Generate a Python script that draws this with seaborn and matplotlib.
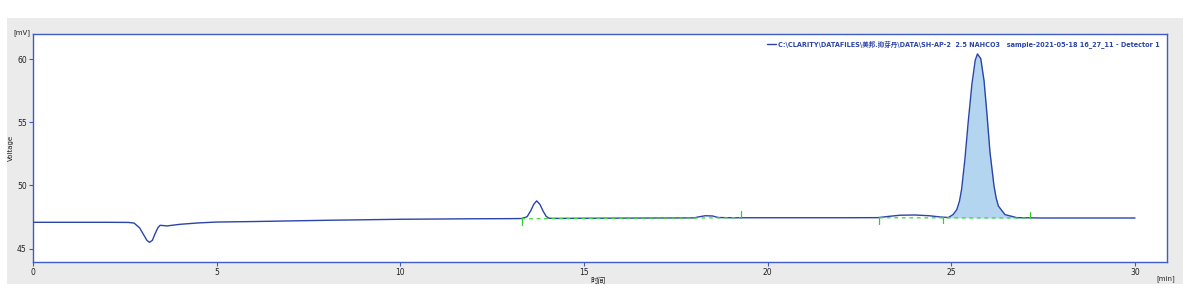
import numpy as np
import pandas as pd
import matplotlib
matplotlib.use("Agg")
import matplotlib.pyplot as plt
from matplotlib.patches import Rectangle
import seaborn as sns

# ---- data ----
time_min = [0.0, 1.0, 2.0, 2.6, 2.75, 2.9, 3.0, 3.1, 3.17, 3.25, 3.32, 3.4, 3.46, 3.55, 3.64,
            4.0, 4.5, 5.0, 6.0, 7.0, 8.0, 9.0, 10.0, 11.0, 12.0, 13.0, 13.3,
            13.45, 13.55, 13.63, 13.71, 13.80, 13.88, 13.97, 14.05, 14.3,
            15.0, 16.0, 17.0, 18.0, 18.1, 18.3, 18.5, 18.65, 19.0, 20.0, 21.0, 22.0,
            23.0, 23.3, 23.6, 24.0, 24.4, 24.7, 24.92, 25.05, 25.15, 25.22, 25.28,
            25.37, 25.46, 25.56, 25.65, 25.71, 25.80, 25.89, 25.97, 26.05, 26.16,
            26.22, 26.28, 26.46, 26.78, 27.0, 27.5, 28.0, 29.0, 30.0]
voltage_mv = [47.08, 47.08, 47.08, 47.07, 47.02, 46.65, 46.15, 45.65, 45.49, 45.65, 46.15, 46.65, 46.84, 46.82, 46.79,
              46.92, 47.03, 47.10, 47.14, 47.19, 47.24, 47.28, 47.32, 47.34, 47.36, 47.37, 47.38,
              47.52, 48.0, 48.5, 48.78, 48.5, 48.0, 47.55, 47.40, 47.39,
              47.40, 47.41, 47.42, 47.43, 47.50, 47.60, 47.58, 47.46, 47.44, 47.44, 47.44, 47.44,
              47.45, 47.55, 47.64, 47.66, 47.60, 47.50, 47.46, 47.70, 48.10, 48.75, 49.72,
              52.13, 55.09, 58.05, 59.94, 60.44, 60.07, 58.30, 55.63, 52.67, 49.98,
              49.0, 48.37, 47.69, 47.45, 47.44, 47.42, 47.42, 47.42, 47.42]

# integration baselines (start, end, start level, end level)
baseline_start = [13.30, 23.04]
baseline_end = [19.26, 27.15]
baseline_v0 = [47.36, 47.44]
baseline_v1 = [47.44, 47.42]
# peak boundary markers (time, direction: -1 down, +1 up)
marker_time = [13.30, 19.26, 23.04, 24.78, 27.15]
marker_dir = [-1, 1, -1, -1, 1]
# filled main peak
fill_start, fill_end = 24.78, 27.15

x_ticks = [0, 5, 10, 15, 20, 25, 30]
y_ticks = [45, 50, 55, 60]

legend_label = "C:\\CLARITY\\DATAFILES\\美邦.抑芽丹\\DATA\\SH-AP-2  2.5 NAHCO3   sample-2021-05-18 16_27_11 - Detector 1"

df = pd.DataFrame({"t": time_min, "v": voltage_mv})

sns.set_theme(style="white")
plt.rcParams['font.family'] = ['DejaVu Sans', 'Noto Sans CJK SC']

W, H = 1192, 300
fig = plt.figure(figsize=(W / 100, H / 100), dpi=100)
fig.patch.set_facecolor("white")
fig.patches.append(Rectangle((7 / W, 1 - 284 / H), (1183 - 7) / W, (284 - 18) / H,
                             transform=fig.transFigure, facecolor="#ebebeb",
                             edgecolor="none", zorder=-10))

ax = fig.add_axes([33 / W, 1 - 262 / H, (1167 - 33) / W, (262 - 34) / H])
ax.set_zorder(1)
ax.set_facecolor("white")

line_c = "#2b44a8"
spine_c = "#3e5cc4"

# fill main peak
t_arr = np.array(time_min)
v_arr = np.array(voltage_mv)
mask = (t_arr >= fill_start) & (t_arr <= fill_end)
bl = np.interp(t_arr[mask], [baseline_start[1], baseline_end[1]], [baseline_v0[1], baseline_v1[1]])
ax.fill_between(t_arr[mask], bl, v_arr[mask], color="#b3d5f0", lw=0, zorder=1)

sns.lineplot(data=df, x="t", y="v", ax=ax, color=line_c, lw=1.0, label=legend_label,
             zorder=3, estimator=None, sort=False)

for s, e, v0, v1 in zip(baseline_start, baseline_end, baseline_v0, baseline_v1):
    ax.plot([s, e], [v0, v1], color="#33dd33", lw=0.9, ls=(0, (3, 3)), zorder=4)
for mt, md in zip(marker_time, marker_dir):
    lvl = np.interp(mt, time_min, voltage_mv)
    ax.plot([mt, mt], [lvl, lvl + md * 0.5], color="#33cc33", lw=0.9, zorder=4)

ax.set_xlim(0, 30.87)
ax.set_ylim(43.93, 62.02)
ax.set_xticks(x_ticks)
ax.set_yticks(y_ticks)
ax.tick_params(axis="both", which="both", length=3, width=0.8, color=spine_c,
               labelsize=5.5, labelcolor="#222222", pad=1.5)
ax.tick_params(axis="x", bottom=True)
ax.tick_params(axis="y", left=True)
for sp in ax.spines.values():
    sp.set_color(spine_c)
    sp.set_linewidth(1.0)
    sp.set_visible(True)
ax.set_xlabel("")
ax.set_ylabel("")

fig.text(22 / W, 1 - 33 / H, "[mV]", fontsize=5, color="#222222", ha="center", va="center")
fig.text(11 / W, 1 - 148 / H, "Voltage", fontsize=5, color="#222222", ha="center", va="center",
         rotation=90)
fig.text(1166 / W, 1 - 279 / H, "[min]", fontsize=5, color="#222222", ha="center", va="center")
fig.text(598 / W, 1 - 281 / H, "时间", fontsize=5.5, color="#222222", ha="center", va="center",
         family=['Noto Sans CJK SC', 'DejaVu Sans'])

leg = ax.legend(loc="upper right", bbox_to_anchor=(1160 / W, 1 - 40 / H),
                bbox_transform=fig.transFigure, frameon=False, handlelength=1.3,
                handletextpad=0.4, borderpad=0, borderaxespad=0,
                prop={"size": 4.7, "weight": "bold"})
for txt in leg.get_texts():
    txt.set_color(line_c)

fig.savefig("out.png", dpi=100)
